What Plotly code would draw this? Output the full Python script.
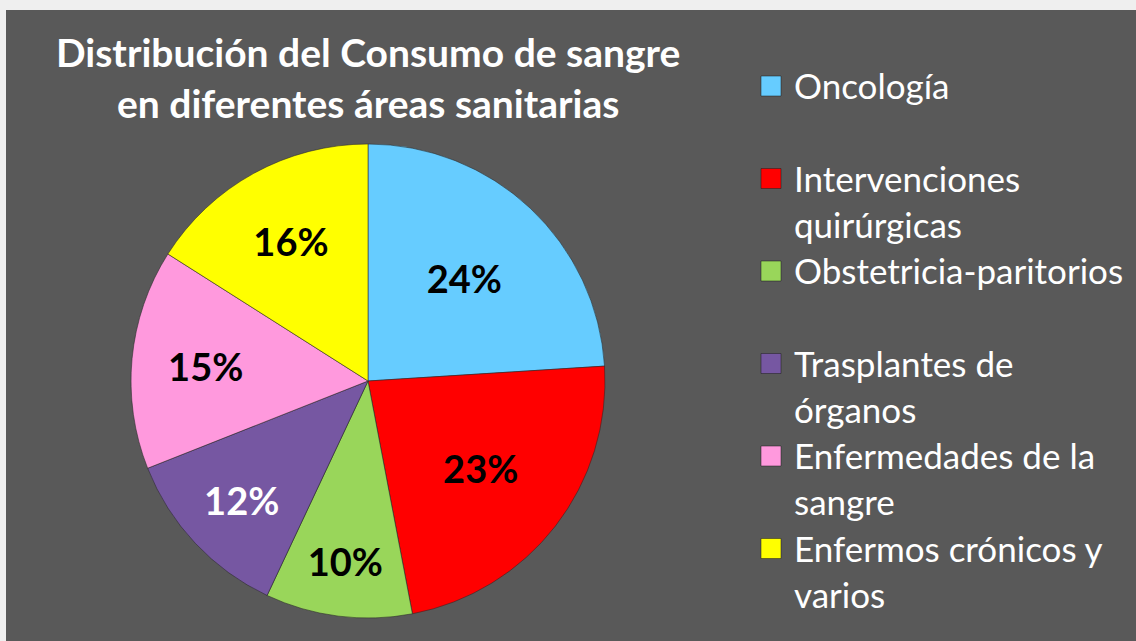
import plotly.graph_objects as go

W, H = 1136, 641

title_lines = ["Distribución del Consumo de sangre", "en diferentes áreas sanitarias"]
categories = [
    "Oncología",
    "Intervenciones<br>quirúrgicas",
    "Obstetricia-paritorios",
    "Trasplantes de<br>órganos",
    "Enfermedades de la<br>sangre",
    "Enfermos crónicos y<br>varios",
]
percentages = [24, 23, 10, 12, 15, 16]
colors = ["#66CCFF", "#FF0000", "#99D65A", "#7657A2", "#FF99DD", "#FFFF00"]
label_colors = ["black", "black", "black", "white", "black", "black"]

BG = "#595959"
FONT = "Lato"


def px(x):
    return x / W


def py(y):
    return 1 - y / H


# pie geometry (pixels)
cx, cy, r = 368, 381, 237

fig = go.Figure()
fig.add_trace(go.Pie(
    labels=categories,
    values=percentages,
    sort=False,
    direction="clockwise",
    rotation=0,
    marker=dict(colors=colors, line=dict(color="rgba(40,40,40,0.55)", width=1)),
    texttemplate="%{percent:.0%}",
    textposition="inside",
    insidetextorientation="horizontal",
    insidetextfont=dict(family=FONT, size=38, color=label_colors, weight=700),
    domain=dict(x=[px(cx - r), px(cx + r)], y=[py(cy + r), py(cy - r)]),
    showlegend=False,
    hoverinfo="label+percent",
))

shapes = [
    # light frame strips at top and left
    dict(type="rect", xref="paper", yref="paper", x0=0, x1=1, y0=py(10), y1=1,
         fillcolor="#EFEFEF", line=dict(width=0), layer="above"),
    dict(type="rect", xref="paper", yref="paper", x0=0, x1=px(6), y0=0, y1=1,
         fillcolor="#EFEFEF", line=dict(width=0), layer="above"),
]

title_size = 39
annotations = [
    dict(text="<br>".join(title_lines), x=px(368), y=py(52.5 - 0.65 * title_size),
         xref="paper", yref="paper",
         xanchor="center", yanchor="top", showarrow=False, align="center",
         font=dict(family=FONT, size=title_size, color="white", weight=700)),
]

# custom legend (marker aligned with first text line)
leg_first_center = 86
leg_step = 92.5
leg_font = 35
line_h = 1.3 * leg_font
for i, (name, col) in enumerate(zip(categories, colors)):
    yc = leg_first_center + i * leg_step
    shapes.append(dict(type="rect", xref="paper", yref="paper",
                       x0=px(761), x1=px(781), y0=py(yc + 10), y1=py(yc - 10),
                       fillcolor=col, line=dict(color="rgba(30,30,30,0.5)", width=1)))
    annotations.append(dict(text=name, x=px(792), y=py(yc - line_h / 2 - 1),
                            xref="paper", yref="paper", xanchor="left", yanchor="top",
                            align="left", showarrow=False,
                            font=dict(family=FONT, size=leg_font, color="white")))

fig.update_layout(
    width=W, height=H,
    margin=dict(l=0, r=0, t=0, b=0),
    paper_bgcolor=BG,
    plot_bgcolor=BG,
    shapes=shapes,
    annotations=annotations,
)

fig.write_html("out.html", config={"displayModeBar": False},
               post_script="document.body.style.margin='0px';")
